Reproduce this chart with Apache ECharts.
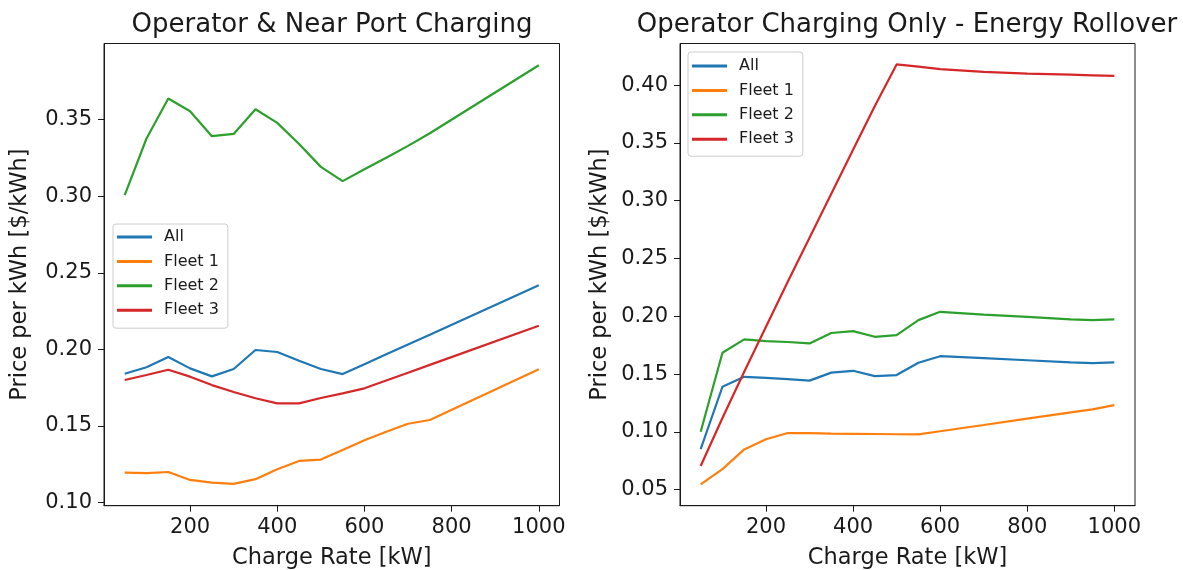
<!DOCTYPE html>
<html>
<head>
<meta charset="utf-8">
<script src="https://cdn.jsdelivr.net/npm/echarts@6/dist/echarts.min.js"></script>
<style>
  html, body { margin: 0; padding: 0; background: #fff; }
  #chart { width: 1183px; height: 570px; }
</style>
</head>
<body>
<div id="chart"></div>
<script>
// Charge rates (kW) for each panel
const xLeft  = [50, 100, 150, 200, 250, 300, 350, 400, 450, 500, 550, 600, 650, 700, 750, 1000];
const xRight = [50, 100, 150, 200, 250, 300, 350, 400, 450, 500, 550, 600, 700, 800, 900, 950, 1000];

// Operator & near port charging: price per kWh
const leftAll    = [0.1841, 0.1883, 0.1950, 0.1876, 0.1824, 0.1872, 0.1996, 0.1983, 0.1926, 0.1872, 0.1839, 0.1903, 0.1968, 0.2032, 0.2096, 0.2418];
const leftFleet1 = [0.1196, 0.1192, 0.1200, 0.1148, 0.1130, 0.1122, 0.1153, 0.1218, 0.1272, 0.1281, 0.1344, 0.1407, 0.1463, 0.1515, 0.1539, 0.1870];
const leftFleet2 = [0.3006, 0.3376, 0.3637, 0.3554, 0.3391, 0.3406, 0.3567, 0.3478, 0.3340, 0.3191, 0.3098, 0.3175, 0.3251, 0.3328, 0.3410, 0.3854];
const leftFleet3 = [0.1800, 0.1833, 0.1867, 0.1822, 0.1767, 0.1722, 0.1681, 0.1648, 0.1648, 0.1683, 0.1713, 0.1746, 0.1797, 0.1848, 0.1899, 0.2154];

// Operator charging only, energy rollover: price per kWh
const rightAll    = [0.0852, 0.1391, 0.1477, 0.1468, 0.1457, 0.1444, 0.1513, 0.1529, 0.1483, 0.1492, 0.1598, 0.1655, 0.1638, 0.1620, 0.1602, 0.1596, 0.1602];
const rightFleet1 = [0.0547, 0.0678, 0.0849, 0.0937, 0.0991, 0.0989, 0.0986, 0.0984, 0.0982, 0.0980, 0.0979, 0.1006, 0.1060, 0.1115, 0.1169, 0.1195, 0.1232];
const rightFleet2 = [0.1002, 0.1685, 0.1801, 0.1786, 0.1778, 0.1766, 0.1856, 0.1872, 0.1823, 0.1838, 0.1967, 0.2039, 0.2015, 0.1995, 0.1974, 0.1968, 0.1974];
const rightFleet3 = [0.0705, 0.1120, 0.1520, 0.1910, 0.2300, 0.2680, 0.3060, 0.3440, 0.3820, 0.4179, 0.4160, 0.4138, 0.4115, 0.4100, 0.4090, 0.4085, 0.4080];

// Tick labels
const xTicks      = [200, 400, 600, 800, 1000];
const yTicksLeft  = [0.10, 0.15, 0.20, 0.25, 0.30, 0.35];
const yTicksRight = [0.05, 0.10, 0.15, 0.20, 0.25, 0.30, 0.35, 0.40];

const seriesNames = ['All', 'Fleet 1', 'Fleet 2', 'Fleet 3'];
const colors = ['#1f77b4', '#ff7f0e', '#2ca02c', '#d62728'];

const FONT = 'DejaVu Sans';
const INK = '#1a1a1a';

const pairs = (xs, ys) => xs.map((x, i) => [x, ys[i]]);

function xAxisFor(gridIndex) {
  return {
    type: 'value', gridIndex, min: 2.5, max: 1047.5,
    name: 'Charge Rate [kW]', nameLocation: 'middle', nameGap: 41,
    nameTextStyle: { fontFamily: FONT, fontSize: 22.5, color: INK },
    axisLine: { show: true, onZero: false, lineStyle: { color: INK, width: 1 } },
    axisTick: { show: true, length: 6, customValues: xTicks, lineStyle: { color: INK } },
    axisLabel: { customValues: xTicks, margin: 11, fontFamily: FONT, fontSize: 21, color: INK,
                 formatter: v => String(v) },
    splitLine: { show: false }
  };
}

function yAxisFor(gridIndex, min, max, ticks, gap) {
  return {
    type: 'value', gridIndex, min, max,
    name: 'Price per kWh [$/kWh]', nameLocation: 'middle', nameGap: gap, nameRotate: 90,
    nameTextStyle: { fontFamily: FONT, fontSize: 22.5, color: INK },
    axisLine: { show: true, onZero: false, lineStyle: { color: INK, width: 1 } },
    axisTick: { show: true, length: 6, customValues: ticks, lineStyle: { color: INK } },
    axisLabel: { customValues: ticks, margin: 12, fontFamily: FONT, fontSize: 21, color: INK,
                 formatter: v => v.toFixed(2) },
    splitLine: { show: false }
  };
}

function legendAt(left, top, padTop) {
  return {
    orient: 'vertical', left, top,
    data: seriesNames,
    icon: 'rect', itemWidth: 35, itemHeight: 3, itemGap: 6.4,
    padding: [padTop, 9, 13 - padTop, 4],
    backgroundColor: 'rgba(255,255,255,0.8)',
    borderColor: '#cccccc', borderWidth: 1, borderRadius: 3,
    textStyle: { fontFamily: FONT, fontSize: 16, color: INK, lineHeight: 18, padding: [0, 0, 0, 7] },
    selectedMode: false
  };
}

function line(name, xi, data, color) {
  return {
    name, type: 'line', xAxisIndex: xi, yAxisIndex: xi,
    data, showSymbol: false, symbol: 'none',
    lineStyle: { color, width: 2.2 }, itemStyle: { color },
    z: 3
  };
}

const leftSets  = [leftAll, leftFleet1, leftFleet2, leftFleet3];
const rightSets = [rightAll, rightFleet1, rightFleet2, rightFleet3];

const gridBase = { top: 43.5, bottom: 64.3, show: true, borderColor: INK, borderWidth: 1,
                   backgroundColor: 'transparent', containLabel: false, outerBoundsMode: 'none' };

const option = {
  animation: false,
  backgroundColor: '#ffffff',
  color: colors,
  title: [
    { text: 'Operator & Near Port Charging', left: 332, top: 12, textAlign: 'center', padding: 0,
      textStyle: { fontFamily: FONT, fontSize: 26, fontWeight: 'normal', color: INK } },
    { text: 'Operator Charging Only - Energy Rollover', left: 907, top: 12, textAlign: 'center', padding: 0,
      textStyle: { fontFamily: FONT, fontSize: 26, fontWeight: 'normal', color: INK } }
  ],
  legend: [legendAt(113, 224, 4), legendAt(688, 52, 5)],
  grid: [
    Object.assign({ left: 104, right: 623.5 }, gridBase),
    Object.assign({ left: 680, right: 48 }, gridBase)
  ],
  xAxis: [xAxisFor(0), xAxisFor(1)],
  yAxis: [
    yAxisFor(0, 0.098, 0.3996, yTicksLeft, 72),
    yAxisFor(1, 0.0362, 0.436, yTicksRight, 68)
  ],
  series: [
    ...leftSets.map((ys, i) => line(seriesNames[i], 0, pairs(xLeft, ys), colors[i])),
    ...rightSets.map((ys, i) => line(seriesNames[i], 1, pairs(xRight, ys), colors[i]))
  ]
};

const chart = echarts.init(document.getElementById('chart'), null, { renderer: 'canvas' });
chart.setOption(option);
</script>
</body>
</html>
